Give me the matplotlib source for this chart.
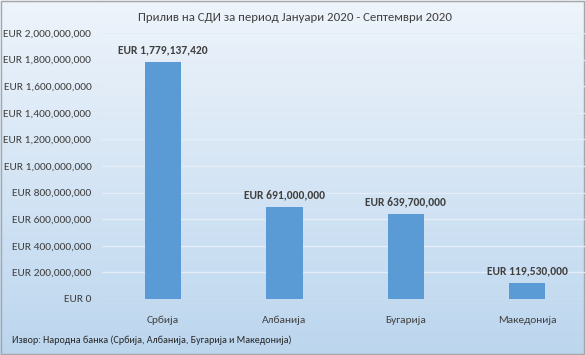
import numpy as np
import matplotlib.pyplot as plt
from matplotlib.ticker import FuncFormatter
from matplotlib.colors import LinearSegmentedColormap

plt.rcParams['font.family'] = ['Carlito', 'DejaVu Sans']

# %% Data
countries = ["Србија", "Албанија", "Бугарија", "Македонија"]
fdi = [1779137420, 691000000, 639700000, 119530000]
yticks = list(range(0, 2000000001, 200000000))

title = "Прилив на СДИ за период Јануари 2020 - Септември 2020"
source = "Извор: Народна банка (Србија, Албанија, Бугарија и Македонија)"

# %% Figure with gradient background
fig = plt.figure(figsize=(5.85, 3.55), dpi=100)
bg = fig.add_axes([0, 0, 1, 1], zorder=0)
grad = np.linspace(0, 1, 256).reshape(-1, 1)
cmap = LinearSegmentedColormap.from_list("bg", ["#eef4fb", "#bcd6ee"])
bg.imshow(grad, aspect="auto", cmap=cmap, extent=[0, 1, 0, 1], origin="upper")
bg.set_xlim(0, 1)
bg.set_ylim(0, 1)
bg.axis("off")
bg.add_patch(plt.Rectangle((0.001, 0.002), 0.997, 0.995, fill=False, edgecolor="#a6a6a6", lw=1))

ax = fig.add_axes([0.175, 0.158, 0.83, 0.749], zorder=1)
ax.patch.set_alpha(0)

x = np.arange(len(countries))
ax.bar(x, fdi, width=0.3, color="#5b9bd5", zorder=3)
for xi, v in zip(x, fdi):
    ax.text(xi, v + 50000000, f"EUR {v:,}", ha="center", va="bottom",
            fontsize=8.3, fontweight="bold", color="#404040")

ax.set_ylim(0, 2000000000)
ax.set_xlim(-0.5, len(countries) - 0.5)
ax.set_yticks(yticks)
ax.yaxis.set_major_formatter(FuncFormatter(lambda v, p: f"EUR {int(v):,}"))
ax.set_xticks(x)
ax.set_xticklabels(countries)
ax.tick_params(axis="both", length=0, labelsize=8.2, colors="#404040")
ax.tick_params(axis="x", pad=12, labelsize=8.2)
ax.tick_params(axis="y", pad=8)
ax.grid(axis="y", color="#e4edf7", lw=1, zorder=0)
for s in ax.spines.values():
    s.set_visible(False)

fig.text(0.505, 0.952, title, ha="center", va="center", fontsize=9.2, color="#404040")
fig.text(0.02, 0.042, source, ha="left", va="center", fontsize=7.2, color="#262626")

fig.savefig("out.png", dpi=100)
